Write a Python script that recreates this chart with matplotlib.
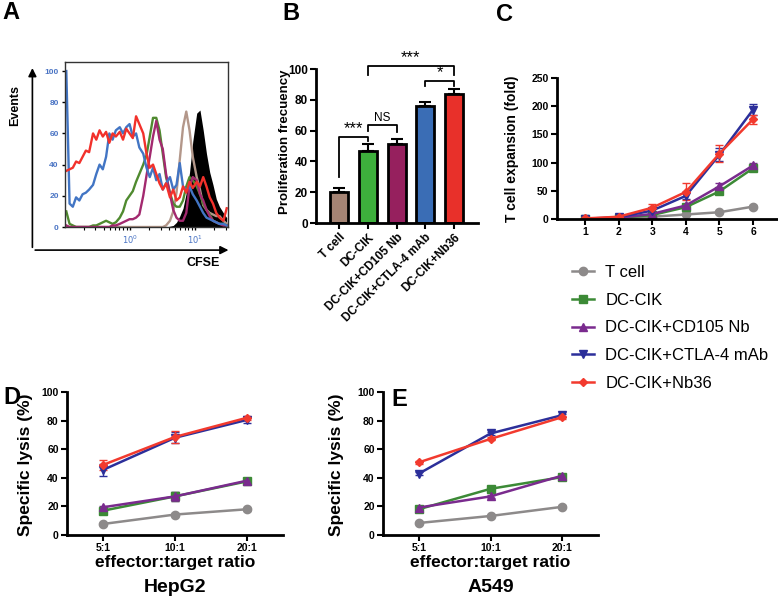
import matplotlib
matplotlib.use('Agg')
import matplotlib.pyplot as plt
from matplotlib.lines import Line2D
import numpy as np

plt.rcParams['font.family'] = ['Liberation Sans', 'DejaVu Sans']

# ---- panel A: CFSE histograms (log10 CFSE bin centres, events) ----
cfse_log = [-0.97, -0.92, -0.87, -0.82, -0.77, -0.72, -0.67, -0.62, -0.56, -0.51,
            -0.46, -0.41, -0.36, -0.31, -0.26, -0.21, -0.15, -0.10, -0.05, 0.00,
            0.05, 0.10, 0.15, 0.21, 0.26, 0.31, 0.36, 0.41, 0.46, 0.51,
            0.56, 0.62, 0.67, 0.72, 0.77, 0.82, 0.87, 0.92, 0.97, 1.03,
            1.08, 1.13, 1.18, 1.23, 1.28, 1.33, 1.38, 1.44, 1.49]
hist_black = [0] * 30 + [0, 0.5, 1, 3, 7, 12, 22, 35, 55, 73, 75, 62, 47, 35, 27, 18, 13, 9, 6]
hist_tan = [0] * 29 + [0, 1, 4, 10, 22, 43, 64, 74, 62, 45, 32, 24, 14, 11, 9, 8, 7, 7, 4, 2]
hist_green = [10, 2, 1, 0, 0, 0, 0, 0, 1, 1,
              2, 3, 4, 3, 2, 3, 6, 10, 17, 20,
              23, 29, 34, 40, 46, 58, 70, 70, 62, 47,
              32, 22, 15, 13, 13, 17, 26, 32, 30, 26,
              21, 15, 11, 8, 4, 3, 2, 2, 1]
hist_maroon = [1, 0, 0, 0, 0, 0, 0, 0, 0, 0,
               0, 0, 0, 0, 1, 1, 2, 3, 4, 5,
               5, 6, 8, 20, 33, 45, 58, 68, 56, 50,
               34, 21, 11, 6, 4, 4, 9, 26, 32, 30,
               21, 17, 11, 7, 4, 3, 2, 1, 1]
hist_blue = [100, 15, 13, 19, 17, 21, 22, 24, 27, 34,
             40, 37, 45, 60, 56, 62, 64, 60, 64, 66,
             58, 60, 51, 47, 38, 32, 38, 30, 34, 24,
             28, 32, 24, 27, 41, 26, 24, 26, 21, 17,
             13, 9, 6, 5, 4, 3, 2, 2, 1]
hist_red = [36, 37, 38, 42, 41, 45, 49, 48, 60, 56,
            62, 58, 61, 54, 60, 58, 61, 56, 63, 60,
            57, 71, 66, 60, 47, 38, 40, 34, 28, 24,
            28, 19, 24, 17, 19, 26, 22, 29, 25, 29,
            26, 32, 26, 19, 15, 9, 6, 4, 12]

# ---- panel B ----
groups = ['T cell', 'DC-CIK', 'DC-CIK+CD105 Nb', 'DC-CIK+CTLA-4 mAb', 'DC-CIK+Nb36']
prolif = [20, 47, 51, 76, 84]
prolif_err = [2.5, 4, 3.5, 2.5, 3]

# ---- panel C ----
days = [1, 2, 3, 4, 5, 6]
exp_tcell = [0.5, 1, 4, 8, 12, 22]
exp_tcell_err = [0.3, 0.5, 1, 1.5, 2, 3]
exp_dccik = [0.5, 2, 7, 21, 49, 90]
exp_dccik_err = [0.3, 0.5, 1, 3, 4, 4]
exp_cd105 = [0.5, 2, 9, 24, 58, 95]
exp_cd105_err = [0.3, 0.5, 1.5, 3, 5, 5]
exp_ctla4 = [0.5, 3, 15, 41, 114, 194]
exp_ctla4_err = [0.3, 1, 3, 6, 12, 10]
exp_nb36 = [1, 4, 20, 48, 116, 177]
exp_nb36_err = [0.3, 1, 7, 15, 15, 8]

# ---- panels D / E ----
ratios = ['5:1', '10:1', '20:1']
hep_tcell = [7.7, 14.3, 18]
hep_dccik = [17, 27, 37.5]
hep_cd105 = [19.4, 27, 38]
hep_ctla4 = [45.5, 68, 80.5]
hep_nb36 = [49, 68.6, 82]
hep_err = {'tcell': [0.5, 1, 1], 'dccik': [1, 3, 1.5], 'cd105': [1, 3, 1.5],
           'ctla4': [4.5, 4, 2], 'nb36': [3.5, 4, 1.5]}
a549_tcell = [8.4, 13.3, 19.7]
a549_dccik = [18, 32.3, 40.5]
a549_cd105 = [19.2, 27, 41.5]
a549_ctla4 = [42.9, 71, 83.8]
a549_nb36 = [50.8, 67.2, 82.4]

series_names = ['T cell', 'DC-CIK', 'DC-CIK+CD105 Nb', 'DC-CIK+CTLA-4 mAb', 'DC-CIK+Nb36']
series_colors = ['#8d8a8a', '#3c8a36', '#7a2b8e', '#2c2f9a', '#f23a2e']
series_markers = ['o', 's', '^', 'v', 'D']
series_msize = [6, 6, 6, 6, 4]

W, H = 778, 598
fig = plt.figure(figsize=(W / 100, H / 100), dpi=100)


def box(l, t, r, b):
    return fig.add_axes([l / W, 1 - b / H, (r - l) / W, (b - t) / H])


def ftext(x, y, s, **kw):
    fig.text(x / W, 1 - y / H, s, **kw)


def style(ax, size=7.5):
    for s in ['top', 'right']:
        ax.spines[s].set_visible(False)
    for s in ['left', 'bottom']:
        ax.spines[s].set_linewidth(2)
    ax.tick_params(width=1.5, length=4, labelsize=size, pad=2)
    for lab in ax.get_xticklabels() + ax.get_yticklabels():
        lab.set_fontweight('bold')


# panel A
axA = box(65, 62, 228, 227)
xa = 10 ** np.array(cfse_log)
axA.fill_between(xa, hist_black, color='black', lw=0)
for vals, col in [(hist_tan, '#b3978a'), (hist_green, '#4f8a2f'), (hist_maroon, '#a3296f'),
                  (hist_blue, '#4275c4'), (hist_red, '#f2312b')]:
    axA.plot(xa, vals, color=col, lw=1.7)
axA.set_xscale('log')
axA.set_xlim(10 ** -0.99, 10 ** 1.51)
axA.set_ylim(0, 105.8)
axA.set_yticks([0, 20, 40, 60, 80, 100])
axA.set_xticks([1, 10])
axA.set_xticklabels(['$10^0$', '$10^1$'])
axA.tick_params(labelsize=6, colors='black', labelcolor='#4a74c4', length=2.5, width=1, pad=2)
axA.tick_params(which='minor', length=2, width=0.8)
for lab in axA.get_yticklabels():
    lab.set_fontweight('bold')
for s in axA.spines.values():
    s.set_linewidth(1)
    s.set_color('#333333')
axA.annotate('', xy=(-0.20, 0.98), xytext=(-0.20, -0.14), xycoords='axes fraction',
             arrowprops=dict(arrowstyle='-|>', color='black', lw=1.2, mutation_scale=12))
axA.annotate('', xy=(1.02, -0.14), xytext=(-0.20, -0.14), xycoords='axes fraction',
             arrowprops=dict(arrowstyle='-|>', color='black', lw=1.2, mutation_scale=12))
ftext(15, 105, 'Events', rotation=90, ha='center', va='center', fontsize=9, fontweight='bold')
ftext(203, 263, 'CFSE', ha='center', va='center', fontsize=9, fontweight='bold')

# panel B
axB = box(316, 69, 478, 223)
xb = np.arange(len(groups))
bar_colors = ['#a58474', '#3db03c', '#96205e', '#3a6db5', '#e8302a']
axB.errorbar(xb, prolif, yerr=[np.zeros(len(prolif)), prolif_err], fmt='none', ecolor='black',
             elinewidth=1.5, capsize=4, capthick=1.5, zorder=1)
axB.bar(xb, prolif, width=0.63, color=bar_colors, edgecolor='black', linewidth=2, zorder=2)
axB.set_xlim(-0.8, 4.83)
axB.set_ylim(0, 100)
axB.set_yticks([0, 20, 40, 60, 80, 100])
axB.set_xticks(xb)
axB.set_xticklabels(groups, rotation=45, ha='right', rotation_mode='anchor')
style(axB, 8.5)
brackets = [(0, 1, 56, 30, 53, '***'), (1, 2, 63.5, 60, 59, 'NS'),
            (3, 4, 92, 89, 89, '*'), (1, 4, 102, 96, 96, '***')]
for i, j, top, left, right, lab in brackets:
    axB.plot([i, i, j, j], [left, top, top, right], color='black', lw=1.3, clip_on=False)
    axB.text((i + j) / 2, top + 0.6, lab, ha='center', va='bottom',
             fontsize=8.5 if lab == 'NS' else 12)
ftext(285, 142, 'Proliferation frecuency', rotation=90, ha='center', va='center',
      fontsize=9.5, fontweight='bold')

# panel C
axC = box(557, 78, 777, 219)
c_data = [(exp_tcell, exp_tcell_err), (exp_dccik, exp_dccik_err), (exp_cd105, exp_cd105_err),
          (exp_ctla4, exp_ctla4_err), (exp_nb36, exp_nb36_err)]
handles = []
for (vals, err), name, col, mk, ms in zip(c_data, series_names, series_colors, series_markers, series_msize):
    axC.errorbar(days, vals, yerr=err, color=col, marker=mk, ms=ms, lw=1.8,
                 capsize=3, elinewidth=1, capthick=1)
    handles.append(Line2D([], [], color=col, marker=mk, ms=ms, lw=1.8))
axC.set_xlim(0.17, 6.71)
axC.set_ylim(0, 250)
axC.set_xticks(days)
axC.set_yticks([0, 50, 100, 150, 200, 250])
style(axC, 7.5)
ftext(512, 149, 'T cell expansion (fold)', rotation=90, ha='center', va='center',
      fontsize=10, fontweight='bold')

fig.legend(handles=handles, labels=series_names, loc='upper left',
           bbox_to_anchor=(572 / W, 1 - 265 / H), frameon=False, fontsize=12,
           handlelength=1.3, handletextpad=0.7, labelspacing=0.76,
           borderpad=0, borderaxespad=0)


# panels D and E
def lysis_panel(l, r, sets, errs, title, ylab_x):
    ax = box(l, 392, r, 535)
    xs = np.arange(len(ratios))
    for vals, err, col, mk, ms in zip(sets, errs, series_colors, series_markers, series_msize):
        ax.errorbar(xs, vals, yerr=err, color=col, marker=mk, ms=ms, lw=1.8,
                    capsize=3, elinewidth=1, capthick=1)
    ax.set_xlim(-0.5, 2.5)
    ax.set_ylim(0, 100)
    ax.set_xticks(xs)
    ax.set_xticklabels(ratios)
    ax.set_yticks([0, 20, 40, 60, 80, 100])
    style(ax, 7.5)
    cx = (l + r) / 2
    ftext(ylab_x, 465, 'Specific lysis (%)', rotation=90, ha='center', va='center',
          fontsize=12.5, fontweight='bold')
    ftext(cx, 563, 'effector:target ratio', ha='center', va='center', fontsize=12.5, fontweight='bold')
    ftext(cx, 588, title, ha='center', va='center', fontsize=14, fontweight='bold')
    return ax


axD = lysis_panel(67, 283, [hep_tcell, hep_dccik, hep_cd105, hep_ctla4, hep_nb36],
                  [hep_err[k] for k in ['tcell', 'dccik', 'cd105', 'ctla4', 'nb36']], 'HepG2', 26)
axE = lysis_panel(383, 598, [a549_tcell, a549_dccik, a549_cd105, a549_ctla4, a549_nb36],
                  [[1, 1, 1]] * 5, 'A549', 336)

# panel letters
for lab, x, y in [('A', 2, 19), ('B', 282, 20), ('C', 496, 21), ('D', 3, 404), ('E', 391, 406)]:
    ftext(x, y, lab, ha='left', va='baseline', fontsize=17, fontweight='bold')

fig.savefig('out.png', dpi=100)
